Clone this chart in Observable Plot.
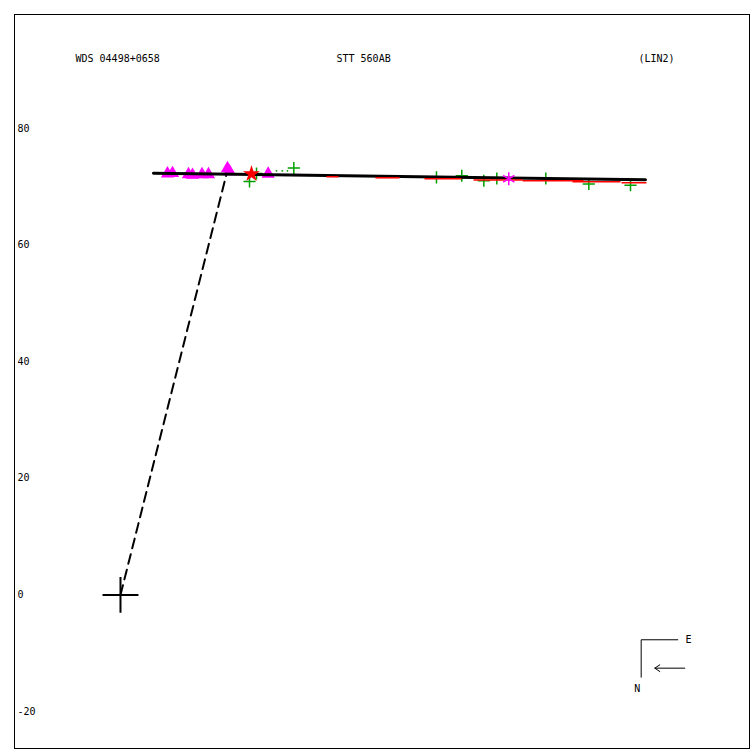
<!DOCTYPE html>
<html>
<head>
<meta charset="utf-8">
<script src="https://cdn.jsdelivr.net/npm/d3@7"></script>
<script src="https://cdn.jsdelivr.net/npm/@observablehq/plot@0.6"></script>
<style>
  html, body { margin: 0; padding: 0; background: #fff; }
  svg { display: block; }
</style>
</head>
<body>
<div id="chart"></div>
<script>
// ---- data (units: arcsec-like plot units) ----
const headerLabels = ["WDS 04498+0658", "STT 560AB", "(LIN2)"];
const yTicks = [80, 60, 40, 20, 0, -20];

const primary = [{x: 0, y: 0}];

// linear fit (LIN2)
const fitLine = [
  {x: 5.66, y: 72.33},
  {x: 90.05, y: 71.20}
];

// dashed line from primary to closest point on the fit
const closestLine = [
  {x: 0, y: 0},
  {x: 18.18, y: 72.17}
];

// magenta triangles
const triX = [8.06, 8.92, 11.66, 12.35, 13.98, 15.09, 18.35, 18.70, 25.33];
const triY = [72.25, 72.31, 72.13, 72.01, 72.13, 72.13, 73.14, 72.62, 72.20];

// green plus measures
const plusX = [22.13, 23.33, 29.73, 54.20, 58.54, 62.32, 64.55, 72.95, 80.33, 87.48];
const plusY = [70.91, 72.28, 73.22, 71.60, 71.89, 71.03, 71.42, 71.42, 70.48, 70.26];

// small green dots
const dotX = [26.76, 27.74, 28.64];
const dotY = [72.74, 72.74, 72.74];

// red star and magenta asterisk
const starPt = [{x: 22.47, y: 72.20}];
const asteriskPt = [{x: 66.60, y: 71.37}];

// red O-C segments
const ocX1 = [35.33, 43.74, 52.14, 60.55, 68.95, 77.53, 85.93];
const ocX2 = [37.39, 47.86, 58.49, 68.95, 79.42, 85.76, 90.22];
const ocY  = [71.72, 71.54, 71.37, 71.17, 71.03, 70.86, 70.69];

// compass (plot units)
const compassCorner = [{x: 89.31, y: -14.12}, {x: 89.31, y: -7.70}, {x: 95.59, y: -7.70}];
const compassArrow = [{x1: 96.79, y1: -12.57, x2: 91.65, y2: -12.57}];
const compassLabels = [{x: 97.43, y: -7.63, t: "E"}, {x: 88.63, y: -16.05, t: "N"}];

// ---- build tables ----
const triangles = triX.map((x, i) => ({x, y: triY[i]}));
const pluses = plusX.map((x, i) => ({x, y: plusY[i]}));
const dots = dotX.map((x, i) => ({x, y: dotY[i]}));
const ocSegs = ocX1.map((x1, i) => ({x1, x2: ocX2[i], y: ocY[i]}));

const green = "#00a000";
const magenta = "#ff00ff";
const red = "#ff0000";

const chart = Plot.plot({
  width: 750,
  height: 750,
  marginLeft: 14,
  marginRight: 1,
  marginTop: 14,
  marginBottom: 2,
  style: {fontFamily: "'DejaVu Sans Mono', monospace", fontSize: "10px", background: "#fff", color: "#000"},
  x: {domain: [-18.18, 107.89], axis: null},
  y: {domain: [-26.35, 99.55], axis: null},
  marks: [
    Plot.frame({stroke: "#000", strokeWidth: 1}),
    Plot.text(yTicks, {y: d => d, text: d => String(d), frameAnchor: "left", dx: 3, textAnchor: "start", fill: "#000"}),
    Plot.text([headerLabels[0]], {frameAnchor: "top-left", dx: 61, dy: 40, textAnchor: "start", fill: "#000"}),
    Plot.text([headerLabels[1]], {frameAnchor: "top-left", dx: 322, dy: 40, textAnchor: "start", fill: "#000"}),
    Plot.text([headerLabels[2]], {frameAnchor: "top-left", dx: 624, dy: 40, textAnchor: "start", fill: "#000"}),
    Plot.line(closestLine, {x: "x", y: "y", stroke: "#000", strokeWidth: 2, strokeDasharray: "10,6"}),
    Plot.dot(primary, {x: "x", y: "y", symbol: "plus", r: 11.6, stroke: "#000", strokeWidth: 2}),
    Plot.dot(triangles, {x: "x", y: "y", symbol: "triangle", r: 4.9, fill: magenta, stroke: "none"}),
    Plot.dot(pluses, {x: "x", y: "y", symbol: "plus", r: 4.0, stroke: green, strokeWidth: 1.5}),
    Plot.dot(dots, {x: "x", y: "y", r: 0.9, fill: green, stroke: "none"}),
    Plot.line(fitLine, {x: "x", y: "y", stroke: "#000", strokeWidth: 3}),
    Plot.link(ocSegs, {x1: "x1", x2: "x2", y1: "y", y2: "y", stroke: red, strokeWidth: 1.5}),
    Plot.dot(starPt, {x: "x", y: "y", symbol: "star", r: 5.3, fill: red, stroke: "none"}),
    Plot.dot(asteriskPt, {x: "x", y: "y", symbol: "asterisk", r: 6.2, stroke: magenta, strokeWidth: 1.5}),
    Plot.line(compassCorner, {x: "x", y: "y", stroke: "#000", strokeWidth: 1}),
    Plot.arrow(compassArrow, {x1: "x1", y1: "y1", x2: "x2", y2: "y2", stroke: "#000", strokeWidth: 1, headLength: 9, headAngle: 68, insetEnd: 0}),
    Plot.text(compassLabels, {x: "x", y: "y", text: "t", fill: "#000"})
  ]
});
document.getElementById("chart").appendChild(chart);
</script>
</body>
</html>
